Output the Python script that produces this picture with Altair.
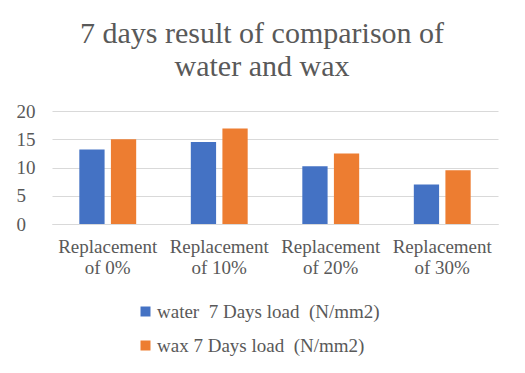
import altair as alt
import pandas as pd

categories = ["Replacement of 0%", "Replacement of 10%", "Replacement of 20%", "Replacement of 30%"]
series_names = ["water\u00a0 7 Days load\u00a0 (N/mm2)", "wax 7 Days load\u00a0 (N/mm2)"]
water_values = [13.2, 14.5, 10.2, 7.0]
wax_values = [15.0, 16.9, 12.5, 9.5]
colors = ["#4472C4", "#ED7D31"]

rows = []
for c, w, x in zip(categories, water_values, wax_values):
    rows.append({"category": c, "series": series_names[0], "value": w})
    rows.append({"category": c, "series": series_names[1], "value": x})
df = pd.DataFrame(rows)

FONT = "Liberation Serif"
TXT = "#595959"

chart = alt.Chart(df).mark_bar().encode(
    x=alt.X("category:N", sort=categories, title=None,
            scale=alt.Scale(paddingInner=0.49, paddingOuter=0.245),
            axis=alt.Axis(labelAngle=0, ticks=False, grid=False, domainColor="#d9d9d9", domainWidth=1,
                          labelFont=FONT, labelFontSize=19, labelColor=TXT,
                          labelLineHeight=21, labelPadding=13, labelBaseline="top",
                          labelExpr="[slice(datum.label,0,11), slice(datum.label,12)]")),
    xOffset=alt.XOffset("series:N", sort=series_names,
                        scale=alt.Scale(paddingInner=0.2, paddingOuter=0)),
    y=alt.Y("value:Q", title=None,
            scale=alt.Scale(domain=[0, 20]),
            axis=alt.Axis(values=[0, 5, 10, 15, 20], domain=False, ticks=False,
                          gridColor="#d9d9d9", labelFont=FONT, labelFontSize=19,
                          labelColor=TXT, labelAlign="left", labelPadding=36)),
    color=alt.Color("series:N", sort=series_names,
                    scale=alt.Scale(domain=series_names, range=colors),
                    legend=alt.Legend(title=None, orient="none", legendX=84, legendY=191,
                                      direction="vertical", symbolType="square",
                                      symbolSize=100, symbolStrokeWidth=0,
                                      labelFont=FONT, labelFontSize=19, labelColor=TXT,
                                      rowPadding=14, labelOffset=2, labelLimit=400)),
).properties(
    width=446, height=113,
    padding={"left": 44, "top": 103, "right": 19, "bottom": 141},
    autosize=alt.AutoSizeParams(type="none"),
    title=alt.TitleParams(text=["7 days result of comparison of", "water and wax"],
                          font=FONT, fontSize=30, fontWeight="normal", color=TXT,
                          anchor="middle", lineHeight=33, offset=20, dx=-13),
).configure(
    background="white",
    view=alt.ViewConfig(strokeWidth=0, strokeOpacity=0),
)

chart.save("out.html", embed_options={"renderer": "svg", "actions": False})
